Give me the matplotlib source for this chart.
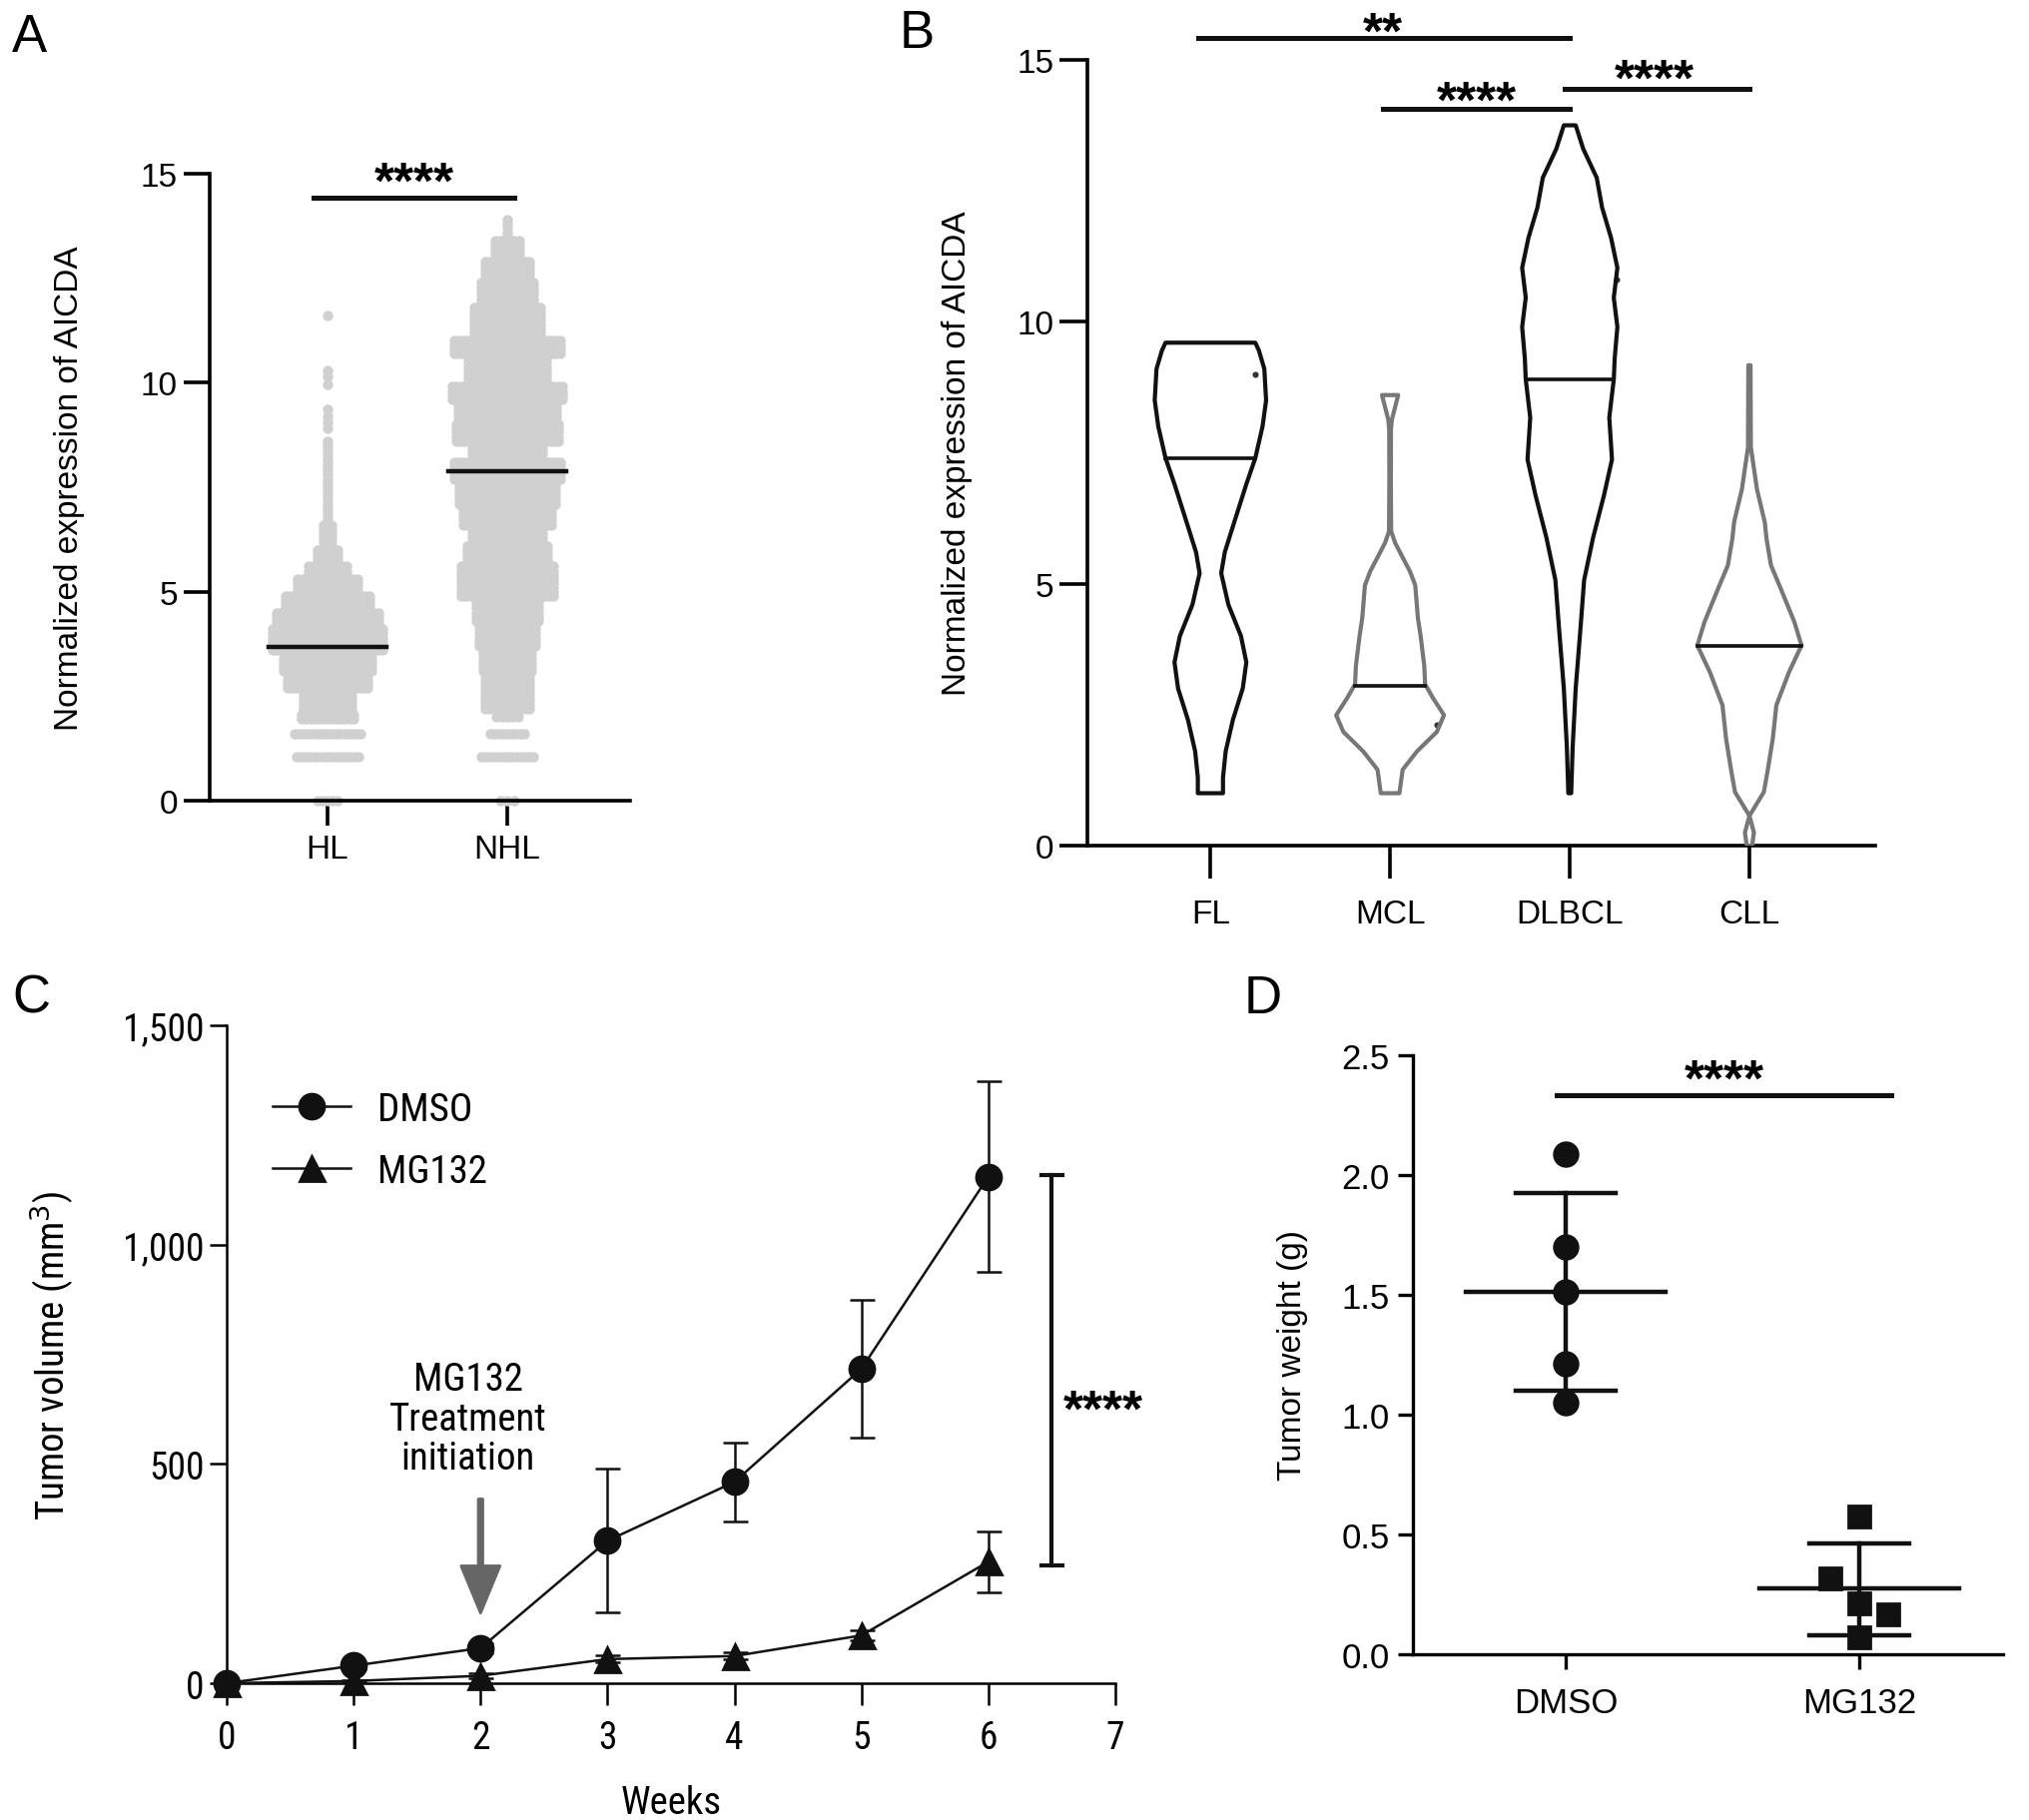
import matplotlib

matplotlib.use("Agg")

import numpy as np
import matplotlib.pyplot as plt

plt.rcParams['font.family'] = ['Liberation Sans', 'DejaVu Sans']
plt.rcParams['font.size'] = 12
NARROW = ['Roboto Condensed', 'Liberation Sans Narrow', 'Liberation Sans', 'DejaVu Sans']

# ---------------- panel A: swarm outline per band (low, high, half width)
a_groups = ['HL', 'NHL']
hl_bands = [(0.0, 0.0, 0.084), (1.05, 1.05, 0.20), (1.6, 1.6, 0.21), (1.95, 2.1, 0.17),
            (2.2, 2.6, 0.16), (2.7, 3.0, 0.25), (3.1, 3.5, 0.27), (3.6, 4.1, 0.33),
            (4.2, 4.5, 0.31), (4.6, 4.9, 0.26), (5.0, 5.3, 0.19), (5.4, 5.6, 0.13),
            (5.7, 6.0, 0.08), (6.1, 6.6, 0.05), (6.7, 8.6, 0.02)]
hl_single = [8.9, 9.05, 9.2, 9.35, 9.95, 10.15, 10.3, 11.6]
nhl_bands = [(0.0, 0.0, 0.065), (1.05, 1.05, 0.17), (1.6, 1.6, 0.12), (2.0, 2.0, 0.085),
             (2.2, 2.5, 0.15), (2.6, 3.0, 0.15), (3.1, 3.6, 0.16), (3.7, 4.2, 0.18),
             (4.3, 4.8, 0.20), (4.9, 5.6, 0.28), (5.7, 6.1, 0.25), (6.2, 6.5, 0.22),
             (6.6, 7.0, 0.27), (7.1, 7.6, 0.29), (7.7, 8.1, 0.32), (8.2, 8.5, 0.22),
             (8.6, 9.0, 0.31), (9.1, 9.5, 0.30), (9.6, 9.9, 0.33), (10.0, 10.6, 0.24),
             (10.7, 11.0, 0.32), (11.1, 11.8, 0.21), (11.9, 12.4, 0.17), (12.5, 12.9, 0.15),
             (13.0, 13.4, 0.09), (13.5, 13.9, 0.04)]
nhl_single = []
a_medians = [3.68, 7.88]

# ---------------- panel B: violin outlines (level, half width)
b_groups = ['FL', 'MCL', 'DLBCL', 'CLL']
fl_y = [1.0, 1.3, 1.8, 2.4, 3.0, 3.5, 4.0, 4.6, 5.2, 5.6, 6.2, 6.9, 7.4, 8.0, 8.5, 9.1, 9.45, 9.6]
fl_w = [0.07, 0.07, 0.085, 0.125, 0.18, 0.20, 0.17, 0.10, 0.06, 0.08, 0.135, 0.20, 0.25, 0.29, 0.31, 0.30, 0.27, 0.25]
mcl_y = [1.0, 1.45, 1.8, 2.17, 2.49, 2.81, 3.08, 3.44, 4.0, 4.34, 4.97, 5.24, 5.5, 5.78, 6.0, 7.0, 7.95, 8.13, 8.6]
mcl_w = [0.052, 0.07, 0.15, 0.26, 0.30, 0.24, 0.195, 0.19, 0.17, 0.155, 0.14, 0.11, 0.07, 0.028, 0.006, 0.004, 0.005, 0.01, 0.045]
dlbcl_y = [1.0, 1.87, 3.0, 4.16, 5.07, 5.88, 6.68, 7.37, 8.17, 8.9, 9.3, 9.9, 10.46, 11.03, 11.6, 12.18, 12.75, 13.3, 13.75]
dlbcl_w = [0.008, 0.016, 0.033, 0.06, 0.08, 0.13, 0.19, 0.235, 0.22, 0.245, 0.25, 0.265, 0.245, 0.265, 0.23, 0.18, 0.15, 0.075, 0.033]
cll_y = [0.0, 0.25, 0.57, 1.02, 1.4, 2.04, 2.68, 3.31, 3.82, 4.27, 4.9, 5.35, 5.86, 6.18, 6.8, 7.39, 7.6, 9.17]
cll_w = [0.015, 0.025, 0.0, 0.08, 0.10, 0.13, 0.15, 0.22, 0.29, 0.25, 0.175, 0.12, 0.095, 0.085, 0.042, 0.017, 0.008, 0.006]
b_medians = [7.4, 3.05, 8.9, 3.82]
b_median_w = [0.25, 0.195, 0.245, 0.29]
b_colors = ['#111111', '#777777', '#111111', '#777777']
b_specks = [(0.25, 9.0), (1.26, 2.31), (2.26, 10.8)]

# ---------------- panel C: tumour volume
weeks = [0, 1, 2, 3, 4, 5, 6]
dmso_vol = [0, 40, 80, 325, 459, 717, 1155]
dmso_sd = [0, 8, 12, 164, 90, 157, 217]
mg_vol = [0, 5, 17, 55, 62, 109, 277]
mg_sd = [0, 3, 5, 8, 8, 12, 70]

# ---------------- panel D: tumour weight
d_groups = ['DMSO', 'MG132']
dmso_w = [2.087, 1.70, 1.509, 1.211, 1.05]
dmso_jit = [0, 0, 0, 0, 0]
mg_w = [0.573, 0.317, 0.213, 0.167, 0.071]
mg_jit = [0, -0.1, 0, 0.1, 0]
d_mean = [1.51, 0.272]
d_sd_hi = [1.922, 0.459]
d_sd_lo = [1.10, 0.076]

STAR = 18.5

fig = plt.figure(figsize=(10.16, 9.12), dpi=200)


def clean(ax, lw):
    ax.spines['top'].set_visible(False)
    ax.spines['right'].set_visible(False)
    ax.spines['left'].set_linewidth(lw)
    ax.spines['bottom'].set_linewidth(lw)


def stars(ax, x, y, lab, off, ha='center'):
    # off: baseline offset in points from the anchor
    ax.annotate(lab, xy=(x, y), xytext=(0, off), textcoords='offset points', ha=ha,
                va='baseline', fontsize=STAR, fontweight='bold', annotation_clip=False)


# ======== A
axA = fig.add_axes([0.1033, 0.5598, 0.2072, 0.3443])
clean(axA, 1.3)
for gi, (bands, singles) in enumerate([(hl_bands, hl_single), (nhl_bands, nhl_single)]):
    xs, ys = [], []
    for lo, hi, hw in bands:
        for yy in np.arange(lo, hi + 1e-6, 0.1):
            half = max(hw - 0.026, 0)
            n = int(half / 0.022)
            for k in range(-n, n + 1):
                xs.append(gi + k * half / max(n, 1))
                ys.append(yy)
    for yy in singles:
        xs.append(gi)
        ys.append(yy)
    axA.scatter(xs, ys, s=14, color='#d0d0d0', linewidths=0, zorder=2, clip_on=False)
    axA.plot([gi - 0.33, gi + 0.33], [a_medians[gi]] * 2, color='#111111', lw=1.6, zorder=3)
axA.set_xlim(-0.656, 1.683)
axA.set_ylim(0, 15)
axA.set_yticks([0, 5, 10, 15])
axA.set_xticks([0, 1])
axA.set_xticklabels(a_groups)
axA.tick_params(axis='y', length=9.5, width=1.3, labelsize=12, pad=2)
axA.tick_params(axis='x', length=9, width=1.3, labelsize=12, pad=3)
axA.set_ylabel('Normalized expression of AICDA', fontsize=12, labelpad=20)
axA.plot([-0.08, 1.04], [14.42, 14.42], color='#111111', lw=1.8, clip_on=False)
stars(axA, 0.48, 14.42, '****', 0.2)

# ======== B
axB = fig.add_axes([0.5359, 0.5351, 0.3883, 0.4315])
clean(axB, 1.3)
for i, (yy, ww) in enumerate([(fl_y, fl_w), (mcl_y, mcl_w), (dlbcl_y, dlbcl_w), (cll_y, cll_w)]):
    yy = np.array(yy)
    ww = np.array(ww)
    px = np.concatenate([i + ww, (i - ww)[::-1]])
    py = np.concatenate([yy, yy[::-1]])
    axB.fill(px, py, facecolor='none', edgecolor=b_colors[i], lw=1.5, joinstyle='round', zorder=3)
    axB.plot([i - b_median_w[i], i + b_median_w[i]], [b_medians[i]] * 2, color='#111111', lw=1.3, zorder=4)
for sx, sy in b_specks:
    axB.plot(sx, sy, 'o', ms=1.2, color='#333333')
axB.set_xlim(-0.685, 3.7)
axB.set_ylim(0, 15)
axB.set_yticks([0, 5, 10, 15])
axB.set_xticks(range(4))
axB.set_xticklabels(b_groups)
axB.tick_params(axis='y', length=10, width=1.3, labelsize=12, pad=2)
axB.tick_params(axis='x', length=12, width=1.3, labelsize=12, pad=7)
axB.set_ylabel('Normalized expression of AICDA', fontsize=12, labelpad=16)
sig_b = [(-0.07, 2.0, 15.42, '**', 0.96, -3.5), (0.96, 2.0, 14.06, '****', 1.48, -2.8),
         (1.97, 3.0, 14.45, '****', 2.47, -2.0)]
for x0, x1, yb, lab, xt, off in sig_b:
    axB.plot([x0, x1], [yb, yb], color='#111111', lw=1.8, clip_on=False)
    stars(axB, xt, yb, lab, off)

# ======== C
axC = fig.add_axes([0.1117, 0.0751, 0.4380, 0.3613])
clean(axC, 0.9)
l1, = axC.plot(weeks, dmso_vol, '-o', color='#111111', lw=0.9, ms=9, zorder=4, clip_on=False, label='DMSO')
l2, = axC.plot(weeks, mg_vol, '-^', color='#111111', lw=0.9, ms=9, zorder=4, clip_on=False, label='MG132')
axC.errorbar(weeks, dmso_vol, yerr=dmso_sd, fmt='none', ecolor='#111111', elinewidth=0.9, capsize=4.5, capthick=0.9, zorder=3)
axC.errorbar(weeks, mg_vol, yerr=mg_sd, fmt='none', ecolor='#111111', elinewidth=0.9, capsize=4.5, capthick=0.9, zorder=3)
axC.set_xlim(0, 7)
axC.set_ylim(0, 1500)
axC.set_xticks(range(8))
axC.set_yticks([0, 500, 1000, 1500])
axC.set_yticklabels(['0', '500', '1,000', '1,500'])
axC.tick_params(axis='y', length=6, width=0.9, pad=2)
axC.tick_params(axis='x', length=8, width=0.9, pad=5)
for t in axC.get_xticklabels() + axC.get_yticklabels():
    t.set_family(NARROW)
    t.set_fontsize(13.5)
axC.set_xlabel('Weeks', family=NARROW, fontsize=14, labelpad=10)
axC.set_ylabel('Tumor volume (mm$^3$)', family=NARROW, fontsize=14, labelpad=17)
leg = axC.legend(handles=[l1, l2], loc='upper left', bbox_to_anchor=(0.03, 0.93), frameon=False,
                 handlelength=2.0, handletextpad=0.7, labelspacing=0.65, borderpad=0,
                 prop={'family': NARROW, 'size': 14})
axC.annotate('', xy=(2, 160), xytext=(2, 420),
             arrowprops=dict(facecolor='#666666', edgecolor='#666666', width=1.6, headwidth=14,
                             headlength=17, shrink=0))
axC.text(1.9, 603, 'MG132\nTreatment\ninitiation', ha='center', va='center', family=NARROW,
         fontsize=14, linespacing=1.1)
axC.plot([6.5, 6.5], [268, 1159], color='#111111', lw=1.5, clip_on=False)
axC.plot([6.42, 6.58], [268, 268], color='#111111', lw=1.5, clip_on=False)
axC.plot([6.42, 6.58], [1159, 1159], color='#111111', lw=1.5, clip_on=False)
stars(axC, 6.59, 655, '****', -10.6, ha='left')

# ======== D
axD = fig.add_axes([0.6964, 0.0912, 0.2908, 0.3290])
clean(axD, 1.2)
axD.plot(np.array(dmso_jit), dmso_w, 'o', color='#111111', ms=8.5, zorder=4, clip_on=False)
axD.plot(1 + np.array(mg_jit), mg_w, 's', color='#111111', ms=8, zorder=4, clip_on=False)
for i in range(2):
    axD.plot([i - 0.34, i + 0.34], [d_mean[i]] * 2, color='#111111', lw=1.6, zorder=3)
    axD.plot([i - 0.17, i + 0.17], [d_sd_hi[i]] * 2, color='#111111', lw=1.6, zorder=3)
    axD.plot([i - 0.17, i + 0.17], [d_sd_lo[i]] * 2, color='#111111', lw=1.6, zorder=3)
    axD.plot([i, i], [d_sd_lo[i], d_sd_hi[i]], color='#111111', lw=1.6, zorder=3)
axD.set_xlim(-0.52, 1.49)
axD.set_ylim(0, 2.5)
axD.set_xticks([0, 1])
axD.set_xticklabels(d_groups)
axD.set_yticks([0, 0.5, 1.0, 1.5, 2.0, 2.5])
axD.set_yticklabels(['0.0', '0.5', '1.0', '1.5', '2.0', '2.5'])
axD.tick_params(axis='y', length=5.5, width=1.2, labelsize=12.5, pad=3)
axD.tick_params(axis='x', length=5.5, width=1.2, labelsize=12.5, pad=6)
axD.set_ylabel('Tumor weight (g)', fontsize=12, labelpad=12)
axD.plot([-0.03, 1.11], [2.33, 2.33], color='#111111', lw=1.8, clip_on=False)
stars(axD, 0.54, 2.33, '****', 0.4)

# panel letters
for lab, x, y in [('A', 0.006, 0.993), ('B', 0.443, 0.995), ('C', 0.006, 0.465), ('D', 0.613, 0.465)]:
    fig.text(x, y, lab, ha='left', va='top', fontsize=19)

plt.savefig('out.png', dpi=200)
plt.close()
